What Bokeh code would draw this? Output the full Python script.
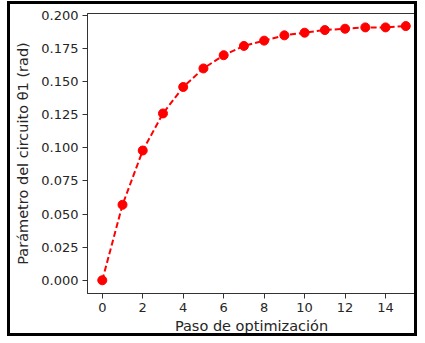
from bokeh.plotting import figure
from bokeh.models import Range1d, FixedTicker, PrintfTickFormatter
from bokeh.embed import file_html
from bokeh.resources import INLINE

steps = list(range(16))
theta1 = [0.000, 0.057, 0.098, 0.126, 0.146, 0.160, 0.170, 0.177,
          0.181, 0.185, 0.187, 0.189, 0.190, 0.191, 0.191, 0.192]
x_ticks = [0, 2, 4, 6, 8, 10, 12, 14]
y_ticks = [0.000, 0.025, 0.050, 0.075, 0.100, 0.125, 0.150, 0.175, 0.200]

p = figure(width=410, height=335, output_backend="svg", toolbar_location=None,
           x_range=Range1d(-0.73, 15.48), y_range=Range1d(-0.0100, 0.2015),
           min_border_left=77, min_border_right=5, min_border_top=9, min_border_bottom=46,
           margin=(1, 0, 0, 7))
p.styles = {"border": "3px solid black"}

p.line(steps, theta1, line_color="#ff0000", line_width=2, line_dash="6 3")
p.scatter(steps, theta1, size=9, fill_color="#ff0000", line_color="#ff0000")

p.xgrid.visible = False
p.ygrid.visible = False
p.outline_line_color = "#333333"
p.outline_line_width = 1

p.xaxis.ticker = FixedTicker(ticks=x_ticks)
p.yaxis.ticker = FixedTicker(ticks=y_ticks)
p.yaxis.formatter = PrintfTickFormatter(format="%.3f")
p.xaxis.axis_label = "Paso de optimización"
p.yaxis.axis_label = "Parámetro del circuito θ1 (rad)"

for ax in (p.xaxis, p.yaxis):
    ax.axis_line_color = "#333333"
    ax.major_tick_line_color = "#333333"
    ax.minor_tick_line_color = None
    ax.major_tick_out = 5
    ax.major_tick_in = 0
    ax.major_label_text_font = "DejaVu Sans"
    ax.major_label_text_font_size = "13px"
    ax.major_label_text_color = "#262626"
    ax.axis_label_text_font = "DejaVu Sans"
    ax.axis_label_text_font_size = "14.5px"
    ax.axis_label_text_font_style = "normal"
    ax.axis_label_text_color = "#262626"
    ax.major_label_standoff = 4
p.yaxis.axis_label_standoff = 7
p.xaxis.axis_label_standoff = 3

open("out.html", "w").write(file_html(p, INLINE))
